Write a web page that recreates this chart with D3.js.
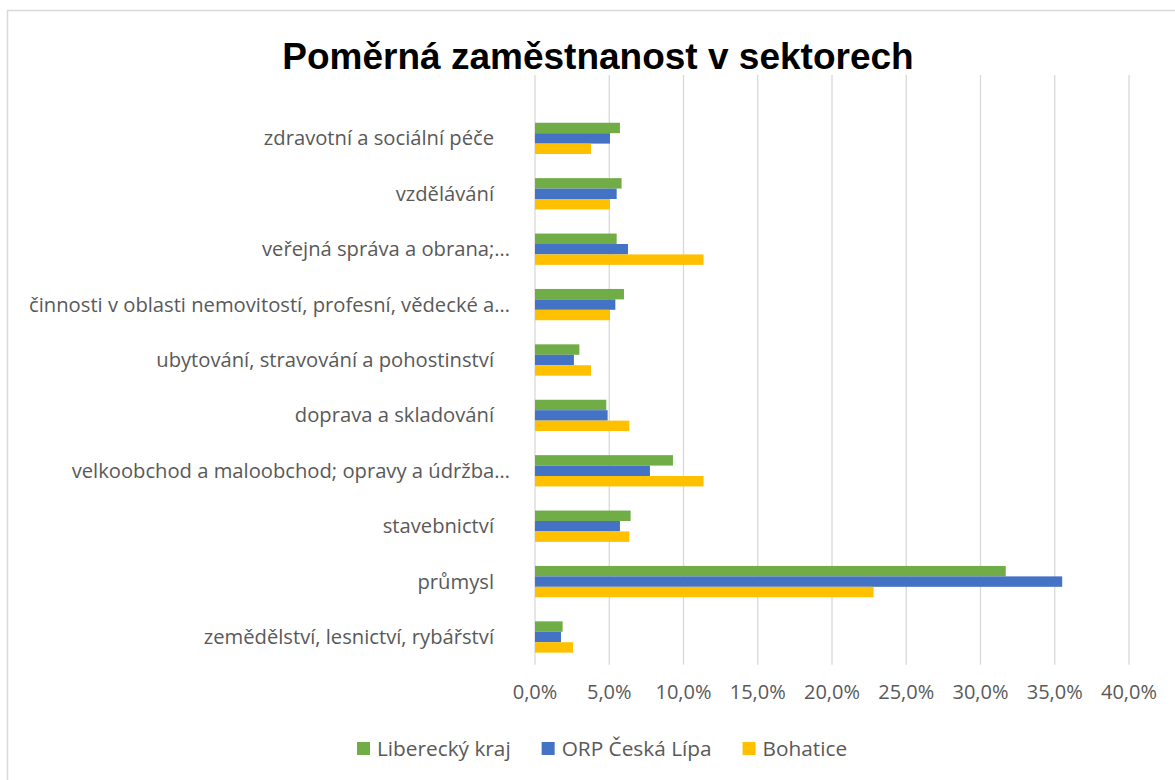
<!DOCTYPE html>
<html>
<head>
<meta charset="utf-8">
<script src="https://cdn.jsdelivr.net/npm/d3@7"></script>
<style>
  body { margin: 0; background: #fff; }
  svg { display: block; }
</style>
</head>
<body>
<div id="chart_area"></div>
<script>

// categories, bottom to top (Excel order)
var categories = [
  "zemědělství, lesnictví, rybářství",
  "průmysl",
  "stavebnictví",
  "velkoobchod a maloobchod; opravy a údržba…",
  "doprava a skladování",
  "ubytování, stravování a pohostinství",
  "činnosti v oblasti nemovitostí, profesní, vědecké a…",
  "veřejná správa a obrana;…",
  "vzdělávání",
  "zdravotní a sociální péče"
];

var seriesNames = ["Liberecký kraj", "ORP Česká Lípa", "Bohatice"];
var seriesColors = ["#70AD47", "#4472C4", "#FFC000"];

// percent values, same order as categories
var liberecky = [1.86, 31.7, 6.44, 9.29, 4.80, 2.99, 5.99, 5.50, 5.83, 5.72];
var orpCeskaLipa = [1.75, 35.5, 5.72, 7.74, 4.89, 2.62, 5.41, 6.26, 5.50, 5.05];
var bohatice = [2.56, 22.8, 6.35, 11.35, 6.35, 3.77, 5.05, 11.35, 5.05, 3.77];

var xTicks = [0, 5, 10, 15, 20, 25, 30, 35, 40];

var allSeries = [liberecky, orpCeskaLipa, bohatice];

var frame_width = 1175, frame_height = 780;
var plot = {left: 535, right: 1129, top: 110.7, bottom: 664.7, gridTop: 75};

var frame = d3.select("#chart_area").append("svg")
  .attr("width", frame_width)
  .attr("height", frame_height);

// chart border (only top and left visible in the crop)
frame.append("path")
  .attr("d", "M7.5," + frame_height + "V10.5H" + frame_width)
  .attr("fill", "none")
  .attr("stroke", "#d9d9d9")
  .attr("stroke-width", 1.5);

// title
frame.append("text")
  .attr("x", 598)
  .attr("y", 69)
  .attr("text-anchor", "middle")
  .attr("font-family", "Liberation Sans, Arial, sans-serif")
  .attr("font-weight", "bold")
  .attr("font-size", 37)
  .attr("fill", "#000")
  .text("Poměrná zaměstnanost v sektorech");

var xScale = d3.scaleLinear().domain([0, 40]).range([plot.left, plot.right]);

var yScale = d3.scaleBand()
  .domain(categories)
  .range([plot.bottom, plot.top])
  .paddingInner(0.435)
  .paddingOuter(0.2175);

var subScale = d3.scaleBand()
  .domain(d3.range(seriesNames.length))
  .range([0, yScale.bandwidth()]);

// gridlines
frame.append("g").selectAll("line")
  .data(xTicks)
  .enter().append("line")
  .attr("x1", function(d) { return xScale(d); })
  .attr("x2", function(d) { return xScale(d); })
  .attr("y1", plot.gridTop)
  .attr("y2", plot.bottom)
  .attr("stroke", "#d9d9d9")
  .attr("stroke-width", 1.3);

// bars
var groups = frame.append("g").selectAll("g")
  .data(categories)
  .enter().append("g")
  .attr("transform", function(d) { return "translate(0," + yScale(d) + ")"; });

groups.selectAll("rect")
  .data(function(d, i) {
    return allSeries.map(function(s, k) { return {k: k, v: s[i]}; });
  })
  .enter().append("rect")
  .attr("x", xScale(0))
  .attr("y", function(d) { return subScale(d.k); })
  .attr("width", function(d) { return xScale(d.v) - xScale(0); })
  .attr("height", subScale.bandwidth())
  .attr("fill", function(d) { return seriesColors[d.k]; });

// category labels
frame.append("g").selectAll("text")
  .data(categories)
  .enter().append("text")
  .attr("x", function(d) { return d.slice(-1) == "…" ? 510 : 494; })
  .attr("y", function(d) { return yScale(d) + yScale.bandwidth() / 2; })
  .attr("dy", "0.35em")
  .attr("text-anchor", "end")
  .attr("font-family", "Open Sans, sans-serif")
  .attr("font-size", 20.2)
  .attr("fill", "#595959")
  .text(function(d) { return d; });

// x tick labels
var fmt = function(d) { return d3.format(".1f")(d).replace(".", ",") + "%"; };
frame.append("g").selectAll("text")
  .data(xTicks)
  .enter().append("text")
  .attr("x", function(d) { return xScale(d); })
  .attr("y", 699)
  .attr("text-anchor", "middle")
  .attr("font-family", "Open Sans, sans-serif")
  .attr("font-size", 20)
  .attr("fill", "#595959")
  .text(fmt);

// legend
var legend = frame.append("g");
var lx = 357;
seriesNames.forEach(function(name, k) {
  legend.append("rect")
    .attr("x", lx).attr("y", 742)
    .attr("width", 13).attr("height", 13)
    .attr("fill", seriesColors[k]);
  var t = legend.append("text")
    .attr("x", lx + 20).attr("y", 755.5)
    .attr("font-family", "Open Sans, sans-serif")
    .attr("font-size", 20.8)
    .attr("fill", "#595959")
    .text(name);
  lx += 20 + t.node().getComputedTextLength() + 31;
});

</script>
</body>
</html>
